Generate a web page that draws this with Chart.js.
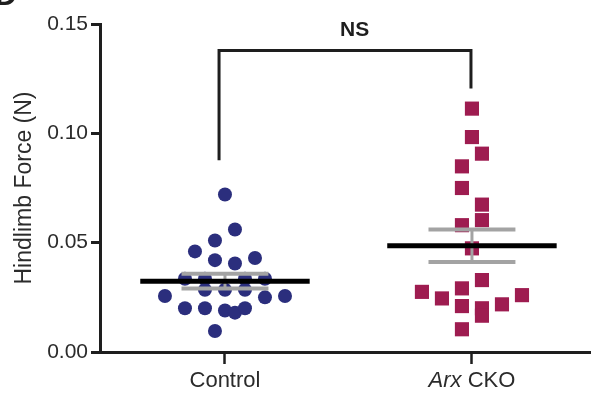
<!DOCTYPE html>
<html>
<head>
<meta charset="utf-8">
<script src="https://cdn.jsdelivr.net/npm/chart.js@4/dist/chart.umd.min.js"></script>
<style>
  html, body { margin: 0; padding: 0; background: #fff; }
  #wrap { width: 591px; height: 396px; position: relative; }
</style>
</head>
<body>
<div id="wrap"><canvas id="c" width="591" height="396"></canvas></div>
<script>
// Group names (the first word of the knockout label is a gene name, set in italics)
const categories = ['Control', 'Arx CKO'];
const italicWords = ['Arx'];

// Hindlimb force per animal (N)
const controlValues = [0.072, 0.056, 0.051, 0.046, 0.042, 0.0405, 0.043,
  0.0335, 0.0335, 0.0335, 0.0335, 0.0285, 0.0285, 0.0285,
  0.0256, 0.025, 0.0256, 0.020, 0.020, 0.019, 0.018, 0.020, 0.0096];
// scatter column of each dot (spread sideways so dots do not overlap)
const controlColumn = [0, 1, -1, -3, -1, 1, 3,
  -4, -2, 2, 4, -2, 0, 2,
  -6, 4, 6, -4, -2, 0, 1, 2, -1];

const ckoValues = [0.1113, 0.0983, 0.0907, 0.0849, 0.0750, 0.0674, 0.0603, 0.0580,
  0.0474, 0.0329, 0.0275, 0.0245, 0.0291, 0.0210, 0.0200, 0.0166, 0.0218, 0.0260, 0.0104];
const ckoColumn = [0, 0, 1, -1, -1, 1, 1, -1,
  0, 1, -5, -3, -1, -1, 1, 1, 3, 5, -1];

// group mean and standard error of the mean
const groupMean = [0.0324, 0.0486];
const groupSem = [0.0034, 0.0074];

// y axis ticks
const yTicks = [0, 0.05, 0.10, 0.15];

// significance annotation
const sigLabel = 'NS';
const bracketTop = 0.1379;
const bracketLegEnds = [0.0877, 0.1205];

// ---- styling / layout ----
const NAVY = '#2b2e7d';
const CRIMSON = '#9e1c50';
const GREY = '#a3a3a3';
const INK = '#1e1e1e';
const TEXT = '#2b2b2b';
const COL_STEP = 0.0405;      // sideways step per scatter column, in x units
const MEAN_HALF = 0.343;      // half length of the mean bar
const CAP_HALF = 0.176;       // half length of the SEM caps
const FONT = '"Liberation Sans", Arial, sans-serif';

function pts(values, cols, center) {
  return values.map((v, i) => ({ x: center + cols[i] * COL_STEP, y: v }));
}
function seg(x0, y0, x1, y1) { return [{ x: x0, y: y0 }, { x: x1, y: y1 }]; }

const lineBase = { showLine: true, pointRadius: 0, fill: false, borderCapStyle: 'butt', order: 0 };
const datasets = [];

// mean bars and SEM caps for each group
groupMean.forEach((m, i) => {
  const cx = i + 1;
  const s = groupSem[i];
  datasets.push(Object.assign({}, lineBase, { data: seg(cx, m - s, cx, m + s), borderColor: GREY, borderWidth: 3, order: 1 }));
  datasets.push(Object.assign({}, lineBase, { data: seg(cx - CAP_HALF, m + s, cx + CAP_HALF, m + s), borderColor: GREY, borderWidth: 4, order: 1 }));
  datasets.push(Object.assign({}, lineBase, { data: seg(cx - CAP_HALF, m - s, cx + CAP_HALF, m - s), borderColor: GREY, borderWidth: 4, order: 1 }));
  datasets.push(Object.assign({}, lineBase, { data: seg(cx - MEAN_HALF, m, cx + MEAN_HALF, m), borderColor: '#000', borderWidth: 5, order: 0 }));
});

// significance bracket
datasets.push(Object.assign({}, lineBase, {
  data: [{ x: 0.976, y: bracketLegEnds[0] }, { x: 0.976, y: bracketTop },
         { x: 1.996, y: bracketTop }, { x: 1.996, y: bracketLegEnds[1] }],
  borderColor: INK, borderWidth: 3, borderJoinStyle: 'miter', order: 0
}));

// individual animals
datasets.push({
  data: pts(controlValues, controlColumn, 1),
  pointStyle: 'circle', pointRadius: 7, pointBorderWidth: 0,
  backgroundColor: NAVY, borderColor: NAVY, showLine: false, order: 2
});
datasets.push({
  data: pts(ckoValues, ckoColumn, 2),
  pointStyle: 'rect', pointRadius: 10, pointBorderWidth: 0,
  backgroundColor: CRIMSON, borderColor: CRIMSON, showLine: false, order: 2
});

// category labels under the x axis, with italic gene names
const categoryLabels = {
  id: 'categoryLabels',
  afterDraw(chart) {
    const ctx = chart.ctx;
    const xs = chart.scales.x;
    const y = chart.chartArea.bottom + 29;
    ctx.save();
    ctx.fillStyle = TEXT;
    ctx.textBaseline = 'middle';
    ctx.textAlign = 'left';
    categories.forEach((name, i) => {
      const cx = xs.getPixelForValue(i + 1);
      const parts = name.split(' ').map((w, k, arr) => ({
        text: w + (k < arr.length - 1 ? ' ' : ''),
        font: (italicWords.includes(w) ? 'italic ' : '') + '22px ' + FONT
      }));
      let total = 0;
      parts.forEach(p => { ctx.font = p.font; p.w = ctx.measureText(p.text).width; total += p.w; });
      let x = cx - total / 2;
      parts.forEach(p => { ctx.font = p.font; ctx.fillText(p.text, x, y); x += p.w; });
    });
    ctx.restore();
  }
};

// "NS" above the bracket and the panel letter in the corner
const annotations = {
  id: 'annotations',
  afterDraw(chart) {
    const ctx = chart.ctx;
    const xs = chart.scales.x, ys = chart.scales.y;
    ctx.save();
    ctx.fillStyle = INK;
    ctx.font = 'bold 21px ' + FONT;
    ctx.textAlign = 'center';
    ctx.textBaseline = 'middle';
    ctx.fillText(sigLabel, xs.getPixelForValue(1.525), ys.getPixelForValue(0.147));
    ctx.font = 'bold 30px ' + FONT;
    ctx.textAlign = 'left';
    ctx.textBaseline = 'alphabetic';
    ctx.fillText('D', -5, 5);
    ctx.restore();
  }
};

new Chart(document.getElementById('c'), {
  type: 'scatter',
  data: { datasets },
  options: {
    responsive: false,
    animation: false,
    events: [],
    layout: { autoPadding: false, padding: { left: 0, right: 0, top: 24, bottom: 0 } },
    plugins: { legend: { display: false }, tooltip: { enabled: false }, title: { display: false } },
    scales: {
      x: {
        type: 'linear',
        min: 0.494, max: 2.482,
        afterBuildTicks(scale) { scale.ticks = categories.map((c, i) => ({ value: i + 1 })); },
        afterFit(scale) { scale.height = 44; },
        ticks: { display: false },
        grid: { drawOnChartArea: false, drawTicks: true, tickLength: 12, tickWidth: 2.5, tickColor: INK },
        border: { color: INK, width: 3 }
      },
      y: {
        type: 'linear',
        min: 0, max: 0.15,
        afterBuildTicks(scale) { scale.ticks = yTicks.map(v => ({ value: v })); },
        afterFit(scale) { scale.width = 100; },
        ticks: {
          color: TEXT, padding: 3,
          font: { family: FONT, size: 21 },
          callback: v => v.toFixed(2)
        },
        grid: { drawOnChartArea: false, drawTicks: true, tickLength: 9, tickWidth: 3, tickColor: INK },
        border: { color: INK, width: 3 },
        title: {
          display: true, text: 'Hindlimb Force (N)', color: TEXT,
          font: { family: FONT, size: 23 },
          padding: { top: 11, bottom: 0 }
        }
      }
    }
  },
  plugins: [categoryLabels, annotations]
});
</script>
</body>
</html>
